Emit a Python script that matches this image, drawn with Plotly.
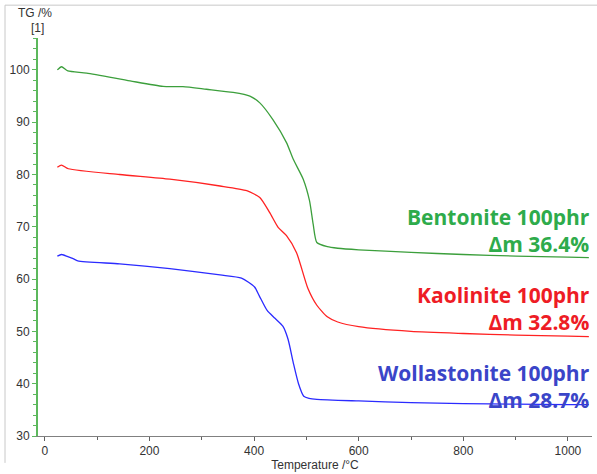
import plotly.graph_objects as go

# Temperature (°C) and TG (%) values
t_bent = [24, 32, 44, 80, 163, 226, 264, 309, 360, 392, 411, 436, 462, 475, 494, 506, 513, 520, 540, 560, 600, 700, 800, 900, 1000, 1040]
tg_bent = [100.0, 100.6, 99.8, 99.4, 97.9, 96.85, 96.8, 96.3, 95.7, 95.0, 93.7, 90.5, 86.1, 82.9, 79.1, 75.0, 70.5, 67.0, 66.2, 65.9, 65.6, 65.1, 64.7, 64.4, 64.2, 64.1]

t_kaol = [24, 32, 45, 143, 239, 335, 386, 411, 430, 446, 462, 481, 503, 520, 540, 560, 600, 700, 800, 900, 1000, 1040]
tg_kaol = [81.4, 81.8, 81.1, 80.0, 79.1, 77.8, 76.9, 75.6, 72.7, 69.9, 68.3, 65.1, 58.2, 55.0, 52.8, 51.8, 50.9, 50.0, 49.6, 49.3, 49.1, 49.0]

t_woll = [24, 32, 54, 63, 143, 239, 335, 376, 401, 410, 425, 440, 455, 465, 475, 485, 495, 505, 520, 600, 700, 800, 900, 1000, 1040]
tg_woll = [64.4, 64.7, 63.9, 63.5, 62.9, 62.0, 60.8, 60.2, 58.5, 56.8, 54.0, 52.5, 51.0, 48.5, 44.0, 40.0, 37.6, 37.2, 37.0, 36.7, 36.4, 36.2, 36.1, 36.0, 36.0]

series_names = ["Bentonite 100phr", "Kaolinite 100phr", "Wollastonite 100phr"]
mass_loss = ["Δm 36.4%", "Δm 32.8%", "Δm 28.7%"]

x_ticks = [0, 200, 400, 600, 800, 1000]
y_ticks = [30, 40, 50, 60, 70, 80, 90, 100]

line_colors = ["#3c9f3c", "#ff2222", "#2b2bff"]
text_colors = ["#2eab4b", "#ee1c25", "#3a45c8"]

fig = go.Figure()
for t, tg, c, n in zip([t_bent, t_kaol, t_woll], [tg_bent, tg_kaol, tg_woll], line_colors, series_names):
    fig.add_trace(go.Scatter(x=t, y=tg, mode="lines", name=n,
                             line=dict(color=c, width=1.3, shape="spline", smoothing=0.6)))

label_center = [231.5, 309.5, 388]
for name, dm, col, py in zip(series_names, mass_loss, text_colors, label_center):
    fig.add_annotation(text=f"<b>{name}<br>{dm}</b>", xref="paper", yref="paper",
                       x=(592 - 38) / 554, y=(438 - py) / 400, align="right",
                       xanchor="right", yanchor="middle", showarrow=False,
                       font=dict(family="Open Sans", size=21, color=col))

# y-axis title above the axis
fig.add_annotation(text="TG /%", xref="paper", yref="paper", x=(35 - 38) / 554, y=(438 - 13) / 400,
                   xanchor="center", yanchor="middle", showarrow=False,
                   font=dict(family="Liberation Sans, Arial", size=12, color="#333333"))
fig.add_annotation(text="[1]", xref="paper", yref="paper", x=(37 - 38) / 554, y=(438 - 28) / 400,
                   xanchor="center", yanchor="middle", showarrow=False,
                   font=dict(family="Liberation Sans, Arial", size=12, color="#333333"))

# light frame (left and top)
fig.add_shape(type="line", xref="paper", yref="paper", x0=(5 - 38) / 554, x1=(5 - 38) / 554,
              y0=(438 - 465) / 400, y1=(438 - 5) / 400, line=dict(color="#c8c8c8", width=1))
fig.add_shape(type="line", xref="paper", yref="paper", x0=(5 - 38) / 554, x1=1.05,
              y0=(438 - 5) / 400, y1=(438 - 5) / 400, line=dict(color="#c8c8c8", width=1))

fig.update_layout(
    width=597, height=474,
    margin=dict(l=38, r=5, t=38, b=36),
    paper_bgcolor="white", plot_bgcolor="white",
    showlegend=False,
    font=dict(family="Liberation Sans, Arial", size=12, color="#333333"),
    xaxis=dict(range=[-13, 1046], tickvals=x_ticks, ticktext=[str(v) for v in x_ticks],
               showgrid=False, zeroline=False, showline=True, linecolor="#808080", linewidth=1,
               ticks="outside", ticklen=4, tickcolor="#606060",
               minor=dict(tickvals=[100, 300, 500, 700, 900], ticks="outside", ticklen=3, tickcolor="#606060"),
               title=dict(text="Temperature /°C", standoff=2, font=dict(size=12)),
               tickfont=dict(size=12, color="#333333")),
    yaxis=dict(range=[30, 106.1], tickvals=y_ticks, ticktext=[str(v) for v in y_ticks],
               showgrid=False, zeroline=False, showline=True, linecolor="#5cb85c", linewidth=2,
               ticks="outside", ticklen=4, tickcolor="#5cb85c",
               minor=dict(dtick=2, ticks="outside", ticklen=3, tickcolor="#5cb85c"),
               tickfont=dict(size=12, color="#333333")),
)

fig.write_html("out.html")
